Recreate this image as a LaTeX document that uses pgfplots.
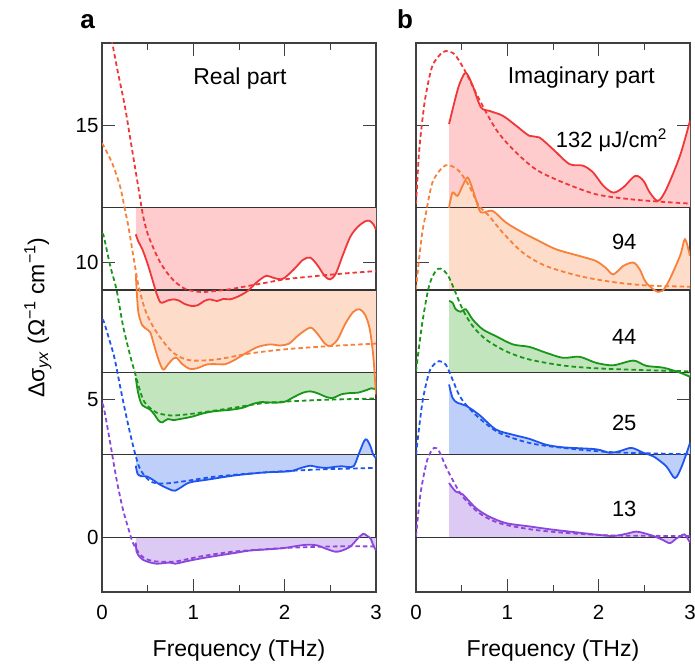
\documentclass[border=0pt]{standalone}
\usepackage{pgfplots}
\pgfplotsset{compat=1.18}
\usepackage{pgfplotstable}
\usepgfplotslibrary{fillbetween}
\usepackage{fontspec}
\setmainfont{Liberation Sans}
\definecolor{cR}{RGB}{240,55,55}
\definecolor{cO}{RGB}{247,128,58}
\definecolor{cG}{RGB}{25,150,25}
\definecolor{cB}{RGB}{30,85,240}
\definecolor{cP}{RGB}{140,70,220}
\definecolor{fR}{RGB}{255,204,206}
\definecolor{fO}{RGB}{253,220,202}
\definecolor{fG}{RGB}{194,229,190}
\definecolor{fB}{RGB}{190,208,250}
\definecolor{fP}{RGB}{220,202,245}
\newcommand\ft{\fontsize{20.5}{24}\selectfont}
\newcommand\fl{\fontsize{23}{27}\selectfont}
\newcommand\fn{\fontsize{22}{26}\selectfont}

% ---------- Real part ----------
\pgfplotstableread{
x y
0.37 11.03
0.40 10.75
0.44 10.50
0.50 9.95
0.55 9.40
0.60 8.85
0.64 8.55
0.68 8.56
0.72 8.62
0.78 8.66
0.84 8.62
0.90 8.50
0.98 8.42
1.05 8.45
1.12 8.60
1.18 8.66
1.26 8.60
1.33 8.68
1.40 8.66
1.50 8.78
1.60 8.98
1.70 9.30
1.80 9.52
1.88 9.44
1.98 9.41
2.10 9.75
2.20 10.10
2.28 10.18
2.36 9.90
2.44 9.50
2.50 9.39
2.56 9.60
2.64 10.30
2.72 10.95
2.80 11.30
2.88 11.50
2.93 11.52
2.97 11.40
3.00 11.20
}\RrS
\pgfplotstableread{
x y
0.09 18.40
0.17 17.00
0.25 15.70
0.33 14.10
0.40 12.70
0.45 11.70
0.50 11.05
0.56 10.55
0.63 10.05
0.71 9.64
0.80 9.30
0.90 9.06
1.00 8.96
1.10 8.93
1.20 8.95
1.40 9.03
1.60 9.15
1.80 9.27
2.00 9.39
2.25 9.48
2.50 9.56
2.75 9.63
3.00 9.69
}\RrD
\pgfplotstableread{
x y
0.37 9.57
0.385 8.70
0.40 8.15
0.44 7.72
0.50 7.55
0.53 7.45
0.57 7.00
0.62 6.45
0.67 6.10
0.72 6.28
0.78 6.50
0.82 6.52
0.88 6.30
0.96 6.13
1.04 6.15
1.15 6.29
1.25 6.30
1.35 6.30
1.45 6.45
1.55 6.65
1.70 6.92
1.84 7.02
1.95 6.98
2.05 7.05
2.15 7.35
2.28 7.63
2.36 7.40
2.44 7.05
2.50 6.96
2.58 7.20
2.66 7.75
2.75 8.20
2.82 8.30
2.88 8.10
2.93 7.60
2.97 6.60
3.00 5.20
}\OrS
\pgfplotstableread{
x y
0.00 14.35
0.05 14.05
0.12 13.55
0.20 12.75
0.25 11.95
0.29 11.30
0.34 10.30
0.40 9.15
0.47 8.30
0.53 7.85
0.60 7.45
0.70 7.00
0.78 6.72
0.88 6.52
1.00 6.43
1.25 6.47
1.62 6.69
2.00 6.84
2.50 6.96
3.00 7.05
}\OrD
\pgfplotstableread{
x y
0.37 5.80
0.39 5.35
0.42 4.95
0.45 4.78
0.52 4.66
0.57 4.48
0.62 4.24
0.66 4.18
0.72 4.30
0.78 4.26
0.85 4.30
0.92 4.34
1.00 4.40
1.10 4.50
1.22 4.58
1.35 4.62
1.44 4.65
1.55 4.72
1.65 4.85
1.75 4.92
1.85 4.90
1.99 4.92
2.10 5.10
2.20 5.26
2.28 5.31
2.36 5.24
2.46 5.10
2.53 5.07
2.62 5.20
2.72 5.25
2.80 5.26
2.90 5.36
2.95 5.42
3.00 5.38
}\GrS
\pgfplotstableread{
x y
0.00 11.05
0.02 10.95
0.09 9.88
0.16 9.00
0.23 7.70
0.31 6.59
0.36 5.99
0.38 5.74
0.45 5.01
0.52 4.72
0.60 4.53
0.70 4.45
0.78 4.43
0.90 4.46
1.07 4.53
1.44 4.71
1.80 4.89
2.35 4.99
3.00 5.05
}\GrD
\pgfplotstableread{
x y
0.37 2.60
0.39 2.30
0.43 2.22
0.49 2.21
0.55 2.10
0.63 1.92
0.70 1.80
0.77 1.70
0.80 1.69
0.85 1.78
0.93 1.95
1.00 2.02
1.15 2.09
1.30 2.17
1.44 2.24
1.60 2.30
1.80 2.36
2.06 2.40
2.18 2.52
2.28 2.60
2.36 2.55
2.46 2.52
2.55 2.56
2.63 2.58
2.70 2.55
2.76 2.60
2.82 3.10
2.87 3.50
2.90 3.55
2.94 3.30
2.97 3.00
3.00 2.88
}\BrS
\pgfplotstableread{
x y
0.00 7.90
0.02 7.85
0.09 7.08
0.14 6.47
0.22 5.13
0.29 4.04
0.36 3.07
0.42 2.46
0.53 2.03
0.67 1.95
0.89 2.03
1.26 2.21
1.80 2.36
2.35 2.46
3.00 2.52
}\BrD
\pgfplotstableread{
x y
0.37 -0.20
0.38 -0.55
0.42 -0.75
0.45 -0.83
0.52 -0.92
0.60 -0.97
0.67 -0.95
0.745 -0.93
0.80 -0.97
0.90 -0.90
1.00 -0.83
1.13 -0.75
1.26 -0.68
1.45 -0.58
1.62 -0.49
1.80 -0.45
1.99 -0.40
2.12 -0.33
2.24 -0.28
2.35 -0.30
2.45 -0.42
2.55 -0.53
2.62 -0.50
2.72 -0.34
2.80 -0.05
2.86 0.12
2.90 0.05
2.94 -0.05
2.97 -0.30
3.00 -0.48
}\PrS
\pgfplotstableread{
x y
0.00 4.85
0.02 4.71
0.09 3.43
0.16 2.09
0.23 1.00
0.31 0.08
0.34 -0.22
0.42 -0.65
0.50 -0.82
0.60 -0.89
0.80 -0.89
1.07 -0.71
1.44 -0.53
1.99 -0.40
2.53 -0.34
3.00 -0.34
}\PrD
% ---------- Imaginary part ----------
\pgfplotstableread{
x y
0.362 15.05
0.42 15.84
0.47 16.45
0.527 16.87
0.56 16.87
0.62 16.45
0.71 15.66
0.80 15.53
0.95 15.35
1.095 14.99
1.24 14.62
1.35 14.56
1.50 14.13
1.68 13.59
1.83 13.53
1.94 13.28
2.05 12.80
2.16 12.55
2.27 12.74
2.40 13.16
2.49 12.98
2.56 12.55
2.65 12.25
2.74 12.67
2.89 13.89
3.00 15.17
}\RiS
\pgfplotstableread{
x y
0.00 12.13
0.033 14.00
0.07 15.20
0.106 16.08
0.18 17.17
0.29 17.66
0.362 17.69
0.435 17.54
0.545 16.93
0.69 15.96
0.875 14.86
1.06 14.13
1.31 13.40
1.61 12.92
1.97 12.49
2.34 12.31
2.71 12.21
3.00 12.15
}\RiD
\pgfplotstableread{
x y
0.362 12.00
0.40 12.55
0.455 12.43
0.51 12.80
0.565 13.10
0.62 12.67
0.69 11.95
0.73 11.82
0.84 11.88
0.985 11.46
1.17 11.09
1.31 10.85
1.53 10.49
1.79 10.24
1.97 10.06
2.08 9.80
2.16 9.57
2.27 9.88
2.38 10.00
2.45 9.75
2.52 9.27
2.65 8.93
2.74 9.15
2.89 10.24
2.945 10.85
3.00 10.24
}\OiS
\pgfplotstableread{
x y
0.00 9.03
0.033 10.12
0.069 11.10
0.106 11.75
0.18 12.92
0.29 13.47
0.362 13.55
0.47 13.34
0.58 12.80
0.69 12.07
0.80 11.70
0.95 11.09
1.17 10.36
1.42 9.88
1.79 9.51
2.16 9.29
2.52 9.17
3.00 9.12
}\OiD
\pgfplotstableread{
x y
0.362 8.60
0.40 8.54
0.435 8.30
0.49 8.21
0.545 8.30
0.62 7.93
0.73 7.57
0.875 7.32
1.06 7.02
1.24 6.93
1.42 6.72
1.61 6.53
1.79 6.57
1.97 6.35
2.16 6.26
2.38 6.43
2.52 6.24
2.71 6.17
2.89 5.99
3.00 5.84
}\GiS
\pgfplotstableread{
x y
0.00 6.04
0.069 7.81
0.143 9.15
0.215 9.69
0.27 9.78
0.344 9.57
0.418 9.03
0.51 8.30
0.62 7.69
0.765 7.20
0.985 6.77
1.24 6.47
1.61 6.25
1.97 6.15
2.52 6.08
3.00 6.04
}\GiD
\pgfplotstableread{
x y
0.362 5.56
0.40 5.07
0.455 4.89
0.545 4.79
0.69 4.46
0.875 3.92
1.06 3.73
1.24 3.58
1.42 3.37
1.61 3.27
1.97 3.20
2.12 3.07
2.23 3.13
2.36 3.25
2.49 3.07
2.60 2.94
2.74 2.58
2.835 2.15
2.91 2.58
3.00 3.43
}\BiS
\pgfplotstableread{
x y
0.00 3.00
0.069 4.89
0.143 5.99
0.20 6.30
0.253 6.41
0.325 6.29
0.40 5.74
0.47 5.19
0.545 4.83
0.69 4.34
0.91 3.80
1.24 3.43
1.61 3.25
2.16 3.09
3.00 3.02
}\BiD
\pgfplotstableread{
x y
0.362 1.97
0.435 1.66
0.51 1.56
0.655 1.06
0.80 0.75
0.985 0.51
1.24 0.39
1.50 0.27
1.79 0.16
2.00 0.08
2.16 0.04
2.30 0.12
2.41 0.20
2.50 0.14
2.60 0.04
2.70 -0.10
2.78 -0.22
2.85 -0.05
2.89 0.02
2.94 0.10
3.00 -0.20
}\PiS
\pgfplotstableread{
x y
0.00 0.02
0.05 1.60
0.124 2.82
0.198 3.25
0.253 3.12
0.325 2.58
0.40 2.09
0.51 1.48
0.69 0.88
0.91 0.51
1.24 0.29
1.61 0.16
2.16 0.06
3.00 0.04
}\PiD

\pgfplotsset{
 panel/.style={
  scale only axis, width=274pt, height=549pt,
  xmin=0, xmax=3, ymin=-2, ymax=18,
  xtick={0,1,2,3}, minor xtick={0.5,1.5,2.5}, ytick={0,5,10,15},
  tick pos=both, tick align=inside,
  major tick length=13pt, minor tick length=7pt,
  every tick/.style={draw=black!75, line width=1pt},
  axis line style={draw=black!75, line width=1.2pt},
  tick label style={font=\ft},
  label style={font=\fl},
  /pgf/number format/assume math mode=true,
  xlabel={Frequency (THz)},
  xlabel style={at={(axis description cs:0.5,-0.106)}, anchor=center},
  xticklabel style={yshift=-10pt},
 },
 sol/.style={line width=1.8pt, smooth, tension=0.5},
 das/.style={line width=1.8pt, smooth, tension=0.5, dash pattern=on 4.5pt off 3pt},
 base/.style={draw=black!80, line width=1.1pt},
}

\begin{document}
\begin{tikzpicture}
% ================= panel a =================
\begin{axis}[panel, at={(102pt,76pt)}, anchor=south west,
  ylabel={Δσ\textsubscript{\textit{yx}} (Ω\textsuperscript{−1} cm\textsuperscript{−1})},
  ylabel style={at={(axis description cs:-0.234,0.5)}, anchor=center}]
 \addplot[draw=none, name path=a0] coordinates {(0.37,0) (3,0)};
 \addplot[draw=none, name path=a3] coordinates {(0.37,3) (3,3)};
 \addplot[draw=none, name path=a6] coordinates {(0.37,6) (3,6)};
 \addplot[draw=none, name path=a9] coordinates {(0.37,9) (3,9)};
 \addplot[draw=none, name path=a12] coordinates {(0.37,12) (3,12)};
 \addplot[draw=none, sol, name path=pA] table {\PrS};
 \addplot[draw=none, sol, name path=bA] table {\BrS};
 \addplot[draw=none, sol, name path=gA] table {\GrS};
 \addplot[draw=none, sol, name path=oA] table {\OrS};
 \addplot[draw=none, sol, name path=rA] table {\RrS};
 \addplot[fill=fP, draw=none] fill between[of=pA and a0];
 \addplot[fill=fB, draw=none] fill between[of=bA and a3];
 \addplot[fill=fG, draw=none] fill between[of=gA and a6];
 \addplot[fill=fO, draw=none] fill between[of=oA and a9];
 \addplot[fill=fR, draw=none] fill between[of=rA and a12];
 \addplot[base] coordinates {(0,0) (3,0)};
 \addplot[base] coordinates {(0,3) (3,3)};
 \addplot[base] coordinates {(0,6) (3,6)};
 \addplot[base] coordinates {(0,9) (3,9)};
 \addplot[base] coordinates {(0,12) (3,12)};
 \addplot[das, cP] table {\PrD};
 \addplot[das, cB] table {\BrD};
 \addplot[das, cG] table {\GrD};
 \addplot[das, cO] table {\OrD};
 \addplot[das, cR] table {\RrD};
 \addplot[sol, cP] table {\PrS};
 \addplot[sol, cB] table {\BrS};
 \addplot[sol, cG] table {\GrS};
 \addplot[sol, cO] table {\OrS};
 \addplot[sol, cR] table {\RrS};
 \node[font=\fl, anchor=base] at (axis cs:1.51,16.5) {Real part};
\end{axis}

% ================= panel b =================
\begin{axis}[panel, at={(416pt,76pt)}, anchor=south west, yticklabels={}]
 \addplot[draw=none, name path=b0] coordinates {(0.362,0) (3,0)};
 \addplot[draw=none, name path=b3] coordinates {(0.362,3) (3,3)};
 \addplot[draw=none, name path=b6] coordinates {(0.362,6) (3,6)};
 \addplot[draw=none, name path=b9] coordinates {(0.362,9) (3,9)};
 \addplot[draw=none, name path=b12] coordinates {(0.362,12) (3,12)};
 \addplot[draw=none, sol, name path=pB] table {\PiS};
 \addplot[draw=none, sol, name path=bB] table {\BiS};
 \addplot[draw=none, sol, name path=gB] table {\GiS};
 \addplot[draw=none, sol, name path=oB] table {\OiS};
 \addplot[draw=none, sol, name path=rB] table {\RiS};
 \addplot[fill=fR, draw=none] fill between[of=rB and b12];
 \addplot[fill=fO, draw=none] fill between[of=oB and b9];
 \addplot[fill=fG, draw=none] fill between[of=gB and b6];
 \addplot[fill=fB, draw=none] fill between[of=bB and b3];
 \addplot[fill=fP, draw=none] fill between[of=pB and b0];
 \addplot[base] coordinates {(0,0) (3,0)};
 \addplot[base] coordinates {(0,3) (3,3)};
 \addplot[base] coordinates {(0,6) (3,6)};
 \addplot[base] coordinates {(0,9) (3,9)};
 \addplot[base] coordinates {(0,12) (3,12)};
 \addplot[das, cP] table {\PiD};
 \addplot[das, cB] table {\BiD};
 \addplot[das, cG] table {\GiD};
 \addplot[das, cO] table {\OiD};
 \addplot[das, cR] table {\RiD};
 \addplot[sol, cP] table {\PiS};
 \addplot[sol, cB] table {\BiS};
 \addplot[sol, cG] table {\GiS};
 \addplot[sol, cO] table {\OiS};
 \addplot[sol, cR] table {\RiS};
 \node[font=\fl, anchor=base] at (axis cs:1.81,16.53) {Imaginary part};
 \node[font=\fn, anchor=base west, inner sep=0pt] at (axis cs:1.53,14.2) {132 μJ/cm\textsuperscript{2}};
 \node[font=\fn, anchor=base] at (axis cs:2.28,10.49) {94};
 \node[font=\fn, anchor=base] at (axis cs:2.28,7.02) {44};
 \node[font=\fn, anchor=base] at (axis cs:2.28,3.88) {25};
 \node[font=\fn, anchor=base] at (axis cs:2.28,0.75) {13};
\end{axis}

\node[font=\fontsize{26}{30}\selectfont\bfseries, anchor=base] at (87.5pt,639.7pt) {a};
\node[font=\fontsize{26}{30}\selectfont\bfseries, anchor=base] at (405pt,639.7pt) {b};
\pgfresetboundingbox
\path[use as bounding box] (0,0) rectangle (695pt,668pt);
\end{tikzpicture}
\end{document}
